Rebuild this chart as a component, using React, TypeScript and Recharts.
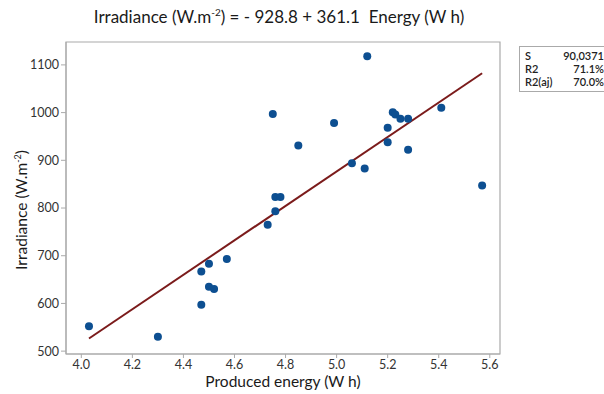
import React from 'react';
import { XAxis, YAxis, ReferenceArea, Line, Scatter, ComposedChart } from 'recharts';

// Produced energy (W h)
const energy = [
  4.03, 4.30, 4.47, 4.47, 4.50, 4.50, 4.52, 4.57, 4.73, 4.75, 4.76, 4.76, 4.78,
  4.85, 4.99, 5.06, 5.11, 5.12, 5.20, 5.20, 5.22, 5.23, 5.25, 5.28, 5.28, 5.41, 5.57,
];
// Irradiance (W.m-2)
const irradiance = [
  552, 530, 597, 667, 683, 635, 630, 693, 765, 997, 823, 793, 823,
  931, 978, 894, 883, 1118, 968, 938, 1001, 996, 987, 987, 922, 1010, 847,
];
const xTicks = [4.0, 4.2, 4.4, 4.6, 4.8, 5.0, 5.2, 5.4, 5.6];
const yTicks = [500, 600, 700, 800, 900, 1000, 1100];
const intercept = -928.8;
const slope = 361.1;
const fitRange = [4.03, 5.57];
const stats = [
  { label: 'S', value: '90,0371' },
  { label: 'R2', value: '71.1%' },
  { label: 'R2(aj)', value: '70.0%' },
];

const points = energy.map((x, i) => ({ x, y: irradiance[i] }));
const fitLine = fitRange.map(x => ({ x, fit: intercept + slope * x }));

const X_DOMAIN: [number, number] = [3.94, 5.64];
const Y_DOMAIN: [number, number] = [494, 1148];
const font = 'Lato, "Open Sans", sans-serif';

const App: React.FC = () => {
  return (
    <div style={{ position: 'absolute', left: 0, top: 0, width: 604, height: 394, overflow: 'hidden', background: '#fff', fontFamily: font }}>
      <div style={{ position: 'absolute', left: 0, width: 558, top: 6, textAlign: 'center', fontSize: 17, color: '#1a1a1a' }}>
        Irradiance (W.m<sup style={{ fontSize: 10 }}>-2</sup>) = - 928.8 + 361.1&nbsp; Energy (W h)
      </div>
      <ComposedChart
        width={604}
        height={394}
        margin={{ top: 42, right: 104, left: 0, bottom: 0 }}
      >
        <XAxis
          dataKey="x"
          type="number"
          domain={X_DOMAIN}
          ticks={xTicks}
          allowDataOverflow
          tickFormatter={(v) => v.toFixed(1)}
          tick={{ fontSize: 12.5, fill: '#333', fontFamily: font }}
          tickSize={4}
          axisLine={{ stroke: '#aaa' }}
          tickLine={{ stroke: '#aaa' }}
          height={40}
        />
        <YAxis
          type="number"
          domain={Y_DOMAIN}
          ticks={yTicks}
          allowDataOverflow
          tick={{ fontSize: 12.5, fill: '#333', fontFamily: font }}
          tickSize={5}
          axisLine={{ stroke: '#aaa' }}
          tickLine={{ stroke: '#aaa' }}
          width={66}
        />
        <ReferenceArea x1={X_DOMAIN[0]} x2={X_DOMAIN[1]} y1={Y_DOMAIN[0]} y2={Y_DOMAIN[1]} fill="none" stroke="#aaa" strokeWidth={1.2} />
        <Line data={fitLine} dataKey="fit" stroke="#7b1b1b" strokeWidth={2} dot={false} isAnimationActive={false} />
        <Scatter data={points} dataKey="y" fill="#0d4f91" isAnimationActive={false} shape={(p: any) => <circle cx={p.cx} cy={p.cy} r={4} fill="#0d4f91" />} />
      </ComposedChart>
      <div style={{ position: 'absolute', left: 21, top: 210, width: 0, height: 0 }}>
        <div style={{ position: 'absolute', transform: 'translate(-50%, -50%) rotate(-90deg)', whiteSpace: 'nowrap', fontSize: 15.5, color: '#1a1a1a' }}>
          Irradiance (W.m<sup style={{ fontSize: 9 }}>-2</sup>)
        </div>
      </div>
      <div style={{ position: 'absolute', left: 0, width: 566, top: 372, textAlign: 'center', fontSize: 15.5, color: '#1a1a1a' }}>
        Produced energy (W h)
      </div>
      <div style={{ position: 'absolute', left: 519, top: 46, width: 100, height: 46, border: '1px solid #aaa', boxSizing: 'border-box', padding: '2px 14px 0 5px', fontSize: 11, fontWeight: 600, color: '#222', lineHeight: '13px' }}>
        {stats.map(s => (
          <div key={s.label} style={{ display: 'flex', justifyContent: 'space-between' }}>
            <span>{s.label}</span>
            <span>{s.value}</span>
          </div>
        ))}
      </div>
    </div>
  );
};

export default App;
